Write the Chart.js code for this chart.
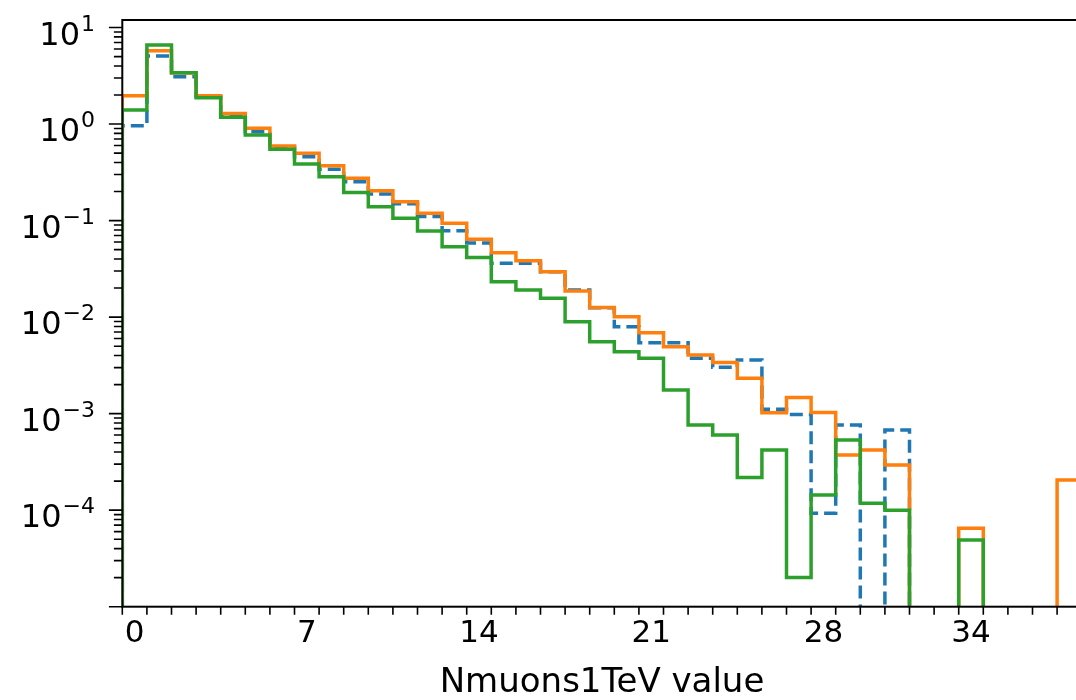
<!DOCTYPE html>
<html>
<head>
<meta charset="utf-8">
<script src="https://cdn.jsdelivr.net/npm/chart.js@4.4.0/dist/chart.umd.min.js"></script>
<style>
  html, body { margin: 0; padding: 0; background: #fff; overflow: hidden; }
  #wrap { width: 1090px; height: 700px; }
</style>
</head>
<body>
<div id="wrap"><canvas id="chart" width="1090" height="700"></canvas></div>
<script>
// Histogram bins (integer values, unit width)
const binCenters = [0, 1, 2, 3, 4, 5, 6, 7, 8, 9, 10, 11, 12, 13, 14, 15, 16, 17, 18, 19,
  20, 21, 22, 23, 24, 25, 26, 27, 28, 29, 30, 31, 32, 33, 34, 35, 36, 37, 38];
const xTickLabels = [0, 7, 14, 21, 28, 34];
const yDecades = [1, 0, -1, -2, -3, -4];

// density per bin (0 = empty bin)
const seriesBlue = [0.96, 5.07, 3.09, 1.93, 1.23, 0.833, 0.583, 0.459, 0.340, 0.253,
  0.189, 0.149, 0.110, 0.0786, 0.0586, 0.0361, 0.0361, 0.0296, 0.0191, 0.0125,
  0.00796, 0.00543, 0.00543, 0.00375, 0.00302, 0.00360, 0.00111, 0.00098, 0.000093, 0.000763,
  0, 0.000678, 0, 0, 0, 0, 0, 0, 0];
const seriesOrange = [1.97, 5.75, 3.38, 1.97, 1.29, 0.904, 0.593, 0.498, 0.370, 0.274,
  0.204, 0.157, 0.119, 0.0937, 0.064, 0.0465, 0.0384, 0.0296, 0.0187, 0.0126,
  0.0101, 0.0069, 0.00494, 0.00405, 0.00338, 0.00232, 0.00102, 0.00147, 0.00103, 0.000373,
  0.000420, 0.000294, 0, 0, 0.000065, 0, 0, 0, 0.000206];
const seriesGreen = [1.40, 6.59, 3.40, 1.875, 1.175, 0.770, 0.548, 0.386, 0.285, 0.1955,
  0.139, 0.1056, 0.078, 0.0536, 0.0415, 0.0233, 0.0191, 0.01567, 0.00897, 0.00557,
  0.00438, 0.00375, 0.00176, 0.000763, 0.000601, 0.000218, 0.000420, 0.0000201, 0.000144, 0.000534,
  0.000118, 0.000100, 0, 0, 0.000049, 0, 0, 0, 0];

const FONT = '"DejaVu Sans", sans-serif';
const FLOOR = 1e-8; // empty bins drop below the axis and get clipped, like matplotlib

// step outline like histtype='step'
function stepPoints(values) {
  const last = binCenters.length - 1;
  const pts = [{ x: binCenters[0] - 0.5, y: FLOOR }];
  values.forEach((v, i) => {
    const y = v > 0 ? v : FLOOR;
    pts.push({ x: binCenters[i] - 0.5, y });
    pts.push({ x: binCenters[i] + 0.5, y });
  });
  pts.push({ x: binCenters[last] + 0.5, y: FLOOR });
  return pts;
}

const lineDefaults = {
  borderWidth: 3.5, pointRadius: 0, fill: false, tension: 0,
  borderJoinStyle: 'miter', borderCapStyle: 'butt', clip: 0
};

const datasets = [
  { label: 'C0', data: stepPoints(seriesBlue), borderColor: '#1f77b4', borderDash: [13, 6], order: 3 },
  { label: 'C1', data: stepPoints(seriesOrange), borderColor: '#ff7f0e', order: 2 },
  { label: 'C2', data: stepPoints(seriesGreen), borderColor: '#2ca02c', order: 1 }
].map(d => Object.assign({}, lineDefaults, d));

// frame, tick marks and 10^k labels (matplotlib look)
const axesDecor = {
  id: 'axesDecor',
  afterDraw(chart) {
    const { ctx, chartArea: a, scales: { x, y } } = chart;
    ctx.save();
    ctx.strokeStyle = '#000';
    ctx.fillStyle = '#000';

    // x minor ticks at bin edges
    const edges = binCenters.map(c => c - 0.5).concat(binCenters[binCenters.length - 1] + 0.5);
    ctx.lineWidth = 1.6;
    ctx.beginPath();
    edges.forEach(e => {
      const px = x.getPixelForValue(e);
      ctx.moveTo(px, a.bottom);
      ctx.lineTo(px, a.bottom + 8);
    });
    // y ticks, major at decades
    for (let k = -5; k <= 1; k++) {
      for (let m = 1; m <= 9; m++) {
        const v = m * Math.pow(10, k);
        if (v < y.min * 0.999 || v > y.max) continue;
        const py = y.getPixelForValue(v);
        const len = m === 1 ? 13.4 : 8.4;
        ctx.moveTo(a.left - len, py);
        ctx.lineTo(a.left, py);
      }
    }
    ctx.stroke();

    ctx.lineWidth = 2;
    ctx.strokeRect(a.left, a.top, a.right - a.left, a.bottom - a.top);

    // y labels 10^k
    const labelRight = 95;
    ctx.textAlign = 'right';
    ctx.textBaseline = 'alphabetic';
    yDecades.forEach(k => {
      const py = y.getPixelForValue(Math.pow(10, k));
      const exp = k < 0 ? '\u2212' + (-k) : String(k);
      ctx.font = '22px ' + FONT;
      const ew = ctx.measureText(exp).width;
      ctx.fillText(exp, labelRight, py + 3);
      ctx.font = '32px ' + FONT;
      ctx.fillText('10', labelRight - ew - 1, py + 17);
    });
    ctx.restore();
  }
};

new Chart(document.getElementById('chart'), {
  type: 'line',
  data: { datasets },
  options: {
    responsive: false,
    animation: false,
    layout: { padding: { top: 20, right: 8.3, left: 0, bottom: 0 } },
    plugins: { legend: { display: false }, tooltip: { enabled: false } },
    scales: {
      x: {
        type: 'linear', min: -0.5, max: 38.5, bounds: 'data',
        grid: { display: false, drawTicks: false },
        border: { display: false },
        afterBuildTicks: s => { s.ticks = xTickLabels.map(v => ({ value: v })); },
        afterFit: s => { s.height = 93.3; },
        ticks: {
          font: { family: FONT, size: 31 }, color: '#000', padding: 9,
          maxRotation: 0, autoSkip: false, callback: v => String(v)
        },
        title: {
          display: true, text: 'Nmuons1TeV value', color: '#000',
          font: { family: FONT, size: 34, lineHeight: 1 }, padding: { top: 0, bottom: 0 }
        }
      },
      y: {
        type: 'logarithmic', min: 1e-5, max: 11.97, bounds: 'data',
        grid: { display: false, drawTicks: false },
        border: { display: false },
        ticks: { display: false },
        afterFit: s => { s.width = 122.3; }
      }
    }
  },
  plugins: [axesDecor]
});
</script>
</body>
</html>
